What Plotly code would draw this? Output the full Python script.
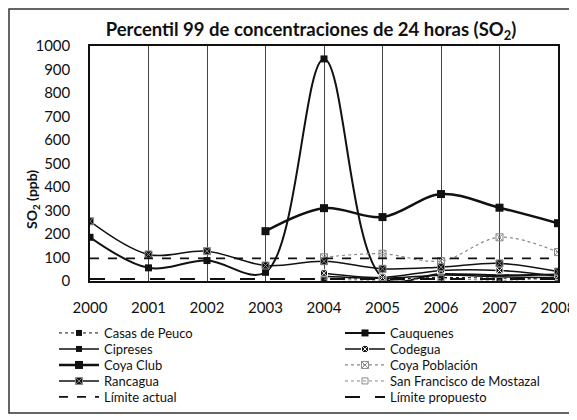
import plotly.graph_objects as go

years = [2000, 2001, 2002, 2003, 2004, 2005, 2006, 2007, 2008]

casas_de_peuco = [None, None, None, None, 12, 8, 15, 12, 10]
cauquenes = [186, 56, 87, 37, 945, 16, 30, 25, 28]
cipreses = [None, None, None, None, 20, 12, 25, 18, 15]
codegua = [None, None, None, None, 33, 15, 45, 45, 20]
coya_club = [None, None, None, 212, 310, 272, 370, 312, 246]
coya_poblacion = [None, None, None, None, 101, 116, 85, 186, 123]
rancagua = [254, 113, 127, 66, 84, 52, 59, 75, 40]
san_francisco = [None, None, None, None, 8, 3, 10, 3, 12]
limite_actual = [96] * 9
limite_propuesto = [8] * 9

FONT = "Lato"
BLACK = "#111111"
GRAY = "#8a8a8a"

# Page body has an 8px margin, so the figure is laid out 8px up/left.
W, H = 569, 412
PL, PR, PT, PB = 82, 550, 38, 273  # plot area in figure pixels

row_y = [325, 341, 357, 373, 389]
col_x = [46, 332]

# (name, values, line, marker, column, row)
series = [
    ("Casas de Peuco", casas_de_peuco, dict(color=BLACK, width=1, dash="dot"), dict(symbol="square", size=6, color=BLACK), 0, 0),
    ("Cauquenes", cauquenes, dict(color=BLACK, width=2), dict(symbol="square", size=7, color=BLACK), 1, 0),
    ("Cipreses", cipreses, dict(color=BLACK, width=1.5), dict(symbol="square", size=6, color=BLACK), 0, 1),
    ("Codegua", codegua, dict(color=BLACK, width=1.5), dict(symbol="square-x", size=7, color=BLACK, line=dict(color="white", width=1)), 1, 1),
    ("Coya Club", coya_club, dict(color=BLACK, width=2.5), dict(symbol="square", size=8, color=BLACK), 0, 2),
    ("Coya Población", coya_poblacion, dict(color=GRAY, width=1.2, dash="dot"), dict(symbol="square-x-open", size=7, color=GRAY), 1, 2),
    ("Rancagua", rancagua, dict(color=BLACK, width=1.5), dict(symbol="square-x", size=7, color=BLACK, line=dict(color=GRAY, width=1)), 0, 3),
    ("San Francisco de Mostazal", san_francisco, dict(color=GRAY, width=1, dash="dot"), dict(symbol="square-open", size=6, color=GRAY), 1, 3),
]

fig = go.Figure()
legends = {}
idx = 0


def legend_name(col, row):
    global idx
    idx += 1
    name = "legend" if idx == 1 else f"legend{idx}"
    legends[name] = dict(
        x=col_x[col] / W, y=1 - row_y[row] / H, xanchor="left", yanchor="middle",
        xref="container", yref="container", orientation="v",
        font=dict(family=FONT, size=13, color=BLACK), itemwidth=40,
        bgcolor="rgba(0,0,0,0)", borderwidth=0,
    )
    return name


for name, vals, line, marker, col, row in series:
    fig.add_trace(go.Scatter(
        x=years, y=vals, name=name, mode="lines+markers",
        line=dict(shape="spline", smoothing=1, **line), marker=marker,
        connectgaps=False, legend=legend_name(col, row),
    ))

fig.add_trace(go.Scatter(x=years, y=limite_actual, name="Límite actual", mode="lines",
                         line=dict(color=BLACK, width=1.8, dash="dash"), legend=legend_name(0, 4)))
fig.add_trace(go.Scatter(x=years, y=limite_propuesto, name="Límite propuesto", mode="lines",
                         line=dict(color=BLACK, width=2, dash="longdash"), legend=legend_name(1, 4)))

fig.update_layout(
    width=W, height=H,
    margin=dict(l=PL, r=W - PR, t=PT, b=H - PB, autoexpand=False),
    paper_bgcolor="white", plot_bgcolor="white",
    font=dict(family=FONT, size=14, color=BLACK),
    title=dict(text="<b>Percentil 99 de concentraciones de 24 horas (SO<sub>2</sub>)</b>",
               x=303 / W, xanchor="center", y=1 - 22 / H, yanchor="middle", yref="container",
               font=dict(family=FONT, size=18.5, color=BLACK)),
    xaxis=dict(range=[2000, 2008], tickmode="array", tickvals=years, ticktext=[str(y) for y in years],
               showgrid=True, gridcolor="#444", gridwidth=1, showline=True, linecolor=BLACK,
               linewidth=1.5, mirror=True, zeroline=False, ticks="", ticklabelstandoff=12,
               tickfont=dict(size=15)),
    yaxis=dict(range=[0, 1000], dtick=100, showgrid=False, showline=True, linecolor=BLACK,
               linewidth=1.5, mirror=True, zeroline=False, ticks="", ticklabelstandoff=15,
               tickfont=dict(size=15)),
    showlegend=True,
    **legends,
)

fig.add_annotation(text="<b>SO<sub>2</sub> (ppb)</b>", textangle=-90, showarrow=False,
                   xref="paper", yref="paper", x=(24 - PL) / (PR - PL), y=(PB - 192) / (PB - PT),
                   xanchor="center", yanchor="middle", font=dict(family=FONT, size=14, color=BLACK))

fig.add_shape(type="rect", xref="paper", yref="paper",
              x0=(1 - PL) / (PR - PL), x1=(563 - PL) / (PR - PL),
              y0=(PB - 405) / (PB - PT), y1=(PB - 1) / (PB - PT),
              line=dict(color="#333", width=1.5), layer="below")

fig.write_html("out.html")
